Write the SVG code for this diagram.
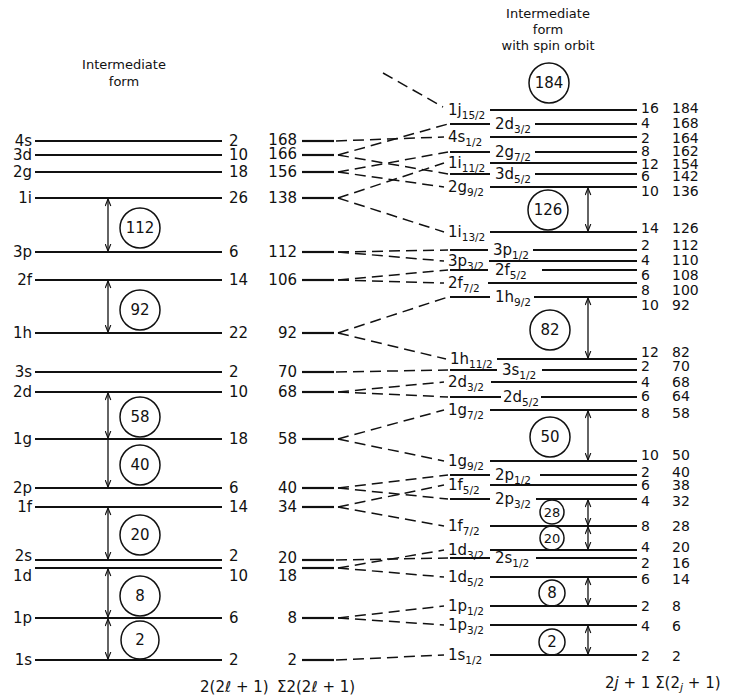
<svg xmlns="http://www.w3.org/2000/svg" width="738" height="698" viewBox="0 0 738 698">
<defs>
<style>
.lv{stroke:#111;stroke-width:2.2}
.dc{stroke:#111;stroke-width:1.5;stroke-dasharray:11 6;fill:none}
.ar{stroke:#111;stroke-width:1.3;fill:none}
.c{fill:none;stroke:#111;stroke-width:1.5}
text{font-family:"DejaVu Sans","Liberation Sans",sans-serif;font-size:15px;fill:#111}
.e{text-anchor:end}
.m{text-anchor:middle}
.ttl{font-size:13px}
.sub{font-size:10.5px}
.sm{font-size:13px}
.rn{font-size:14px}
</style>
<marker id="ah" viewBox="0 0 10 10" refX="10" refY="5" markerWidth="8" markerHeight="7" markerUnits="userSpaceOnUse" orient="auto-start-reverse">
<path d="M0,1 L10,5 L0,9" fill="none" stroke="#111" stroke-width="1.6"/>
</marker>
</defs>
<rect width="738" height="698" fill="#fff"/>

<g id="titles">
<text class="ttl m" x="124" y="69">Intermediate</text>
<text class="ttl m" x="124" y="86">form</text>
<text class="ttl m" x="548" y="18">Intermediate</text>
<text class="ttl m" x="548" y="34">form</text>
<text class="ttl m" x="548" y="50">with spin orbit</text>
</g>

<!-- left column: intermediate form -->
<g id="L-4s"><line class="lv" x1="35" y1="141" x2="222" y2="141"/><text class="e" x="32" y="146">4s</text><text x="229" y="146">2</text></g>
<g id="L-3d"><line class="lv" x1="35" y1="155" x2="222" y2="155"/><text class="e" x="32" y="160">3d</text><text x="229" y="160">10</text></g>
<g id="L-2g"><line class="lv" x1="35" y1="172" x2="222" y2="172"/><text class="e" x="32" y="177">2g</text><text x="229" y="177">18</text></g>
<g id="L-1i"><line class="lv" x1="35" y1="198" x2="222" y2="198"/><text class="e" x="32" y="203">1i</text><text x="229" y="203">26</text></g>
<g id="L-3p"><line class="lv" x1="35" y1="252" x2="222" y2="252"/><text class="e" x="32" y="257">3p</text><text x="229" y="257">6</text></g>
<g id="L-2f"><line class="lv" x1="35" y1="280" x2="222" y2="280"/><text class="e" x="32" y="285">2f</text><text x="229" y="285">14</text></g>
<g id="L-1h"><line class="lv" x1="35" y1="333" x2="222" y2="333"/><text class="e" x="32" y="338">1h</text><text x="229" y="338">22</text></g>
<g id="L-3s"><line class="lv" x1="35" y1="372" x2="222" y2="372"/><text class="e" x="32" y="377">3s</text><text x="229" y="377">2</text></g>
<g id="L-2d"><line class="lv" x1="35" y1="392" x2="222" y2="392"/><text class="e" x="32" y="397">2d</text><text x="229" y="397">10</text></g>
<g id="L-1g"><line class="lv" x1="35" y1="439" x2="222" y2="439"/><text class="e" x="32" y="444">1g</text><text x="229" y="444">18</text></g>
<g id="L-2p"><line class="lv" x1="35" y1="488" x2="222" y2="488"/><text class="e" x="32" y="493">2p</text><text x="229" y="493">6</text></g>
<g id="L-1f"><line class="lv" x1="35" y1="507" x2="222" y2="507"/><text class="e" x="32" y="512">1f</text><text x="229" y="512">14</text></g>
<g id="L-2s"><line class="lv" x1="35" y1="560" x2="222" y2="560"/><text class="e" x="32" y="561">2s</text><text x="229" y="561">2</text></g>
<g id="L-1d"><line class="lv" x1="35" y1="568" x2="222" y2="568"/><text class="e" x="32" y="581">1d</text><text x="229" y="581">10</text></g>
<g id="L-1p"><line class="lv" x1="35" y1="618" x2="222" y2="618"/><text class="e" x="32" y="623">1p</text><text x="229" y="623">6</text></g>
<g id="L-1s"><line class="lv" x1="35" y1="660" x2="222" y2="660"/><text class="e" x="32" y="665">1s</text><text x="229" y="665">2</text></g>

<!-- left gaps -->
<g id="L-gap-112"><line class="ar" x1="108" y1="199" x2="108" y2="251" marker-start="url(#ah)" marker-end="url(#ah)"/><circle class="c" cx="140" cy="228" r="20"/><text class="m" x="140" y="233">112</text></g>
<g id="L-gap-92"><line class="ar" x1="108" y1="281" x2="108" y2="332" marker-start="url(#ah)" marker-end="url(#ah)"/><circle class="c" cx="140" cy="310" r="20"/><text class="m" x="140" y="315">92</text></g>
<g id="L-gap-58"><line class="ar" x1="108" y1="393" x2="108" y2="438" marker-start="url(#ah)" marker-end="url(#ah)"/><circle class="c" cx="140" cy="417" r="20"/><text class="m" x="140" y="422">58</text></g>
<g id="L-gap-40"><line class="ar" x1="108" y1="440" x2="108" y2="487" marker-end="url(#ah)"/><circle class="c" cx="140" cy="465" r="20"/><text class="m" x="140" y="470">40</text></g>
<g id="L-gap-20"><line class="ar" x1="108" y1="508" x2="108" y2="559" marker-start="url(#ah)" marker-end="url(#ah)"/><circle class="c" cx="140" cy="535" r="20"/><text class="m" x="140" y="540">20</text></g>
<g id="L-gap-8"><line class="ar" x1="108" y1="569" x2="108" y2="617" marker-start="url(#ah)" marker-end="url(#ah)"/><circle class="c" cx="140" cy="596" r="20"/><text class="m" x="140" y="601">8</text></g>
<g id="L-gap-2"><line class="ar" x1="108" y1="619" x2="108" y2="659" marker-start="url(#ah)" marker-end="url(#ah)"/><circle class="c" cx="140" cy="640" r="19"/><text class="m" x="140" y="645">2</text></g>

<!-- middle column: cumulative -->
<g id="M-168"><line class="lv" x1="302" y1="141" x2="334" y2="141"/><text class="e" x="297" y="145">168</text></g>
<g id="M-166"><line class="lv" x1="302" y1="155" x2="334" y2="155"/><text class="e" x="297" y="159">166</text></g>
<g id="M-156"><line class="lv" x1="302" y1="172" x2="334" y2="172"/><text class="e" x="297" y="177">156</text></g>
<g id="M-138"><line class="lv" x1="302" y1="198" x2="334" y2="198"/><text class="e" x="297" y="203">138</text></g>
<g id="M-112"><line class="lv" x1="302" y1="252" x2="334" y2="252"/><text class="e" x="297" y="257">112</text></g>
<g id="M-106"><line class="lv" x1="302" y1="280" x2="334" y2="280"/><text class="e" x="297" y="285">106</text></g>
<g id="M-92"><line class="lv" x1="302" y1="333" x2="334" y2="333"/><text class="e" x="297" y="338">92</text></g>
<g id="M-70"><line class="lv" x1="302" y1="372" x2="334" y2="372"/><text class="e" x="297" y="377">70</text></g>
<g id="M-68"><line class="lv" x1="302" y1="392" x2="334" y2="392"/><text class="e" x="297" y="397">68</text></g>
<g id="M-58"><line class="lv" x1="302" y1="439" x2="334" y2="439"/><text class="e" x="297" y="444">58</text></g>
<g id="M-40"><line class="lv" x1="302" y1="488" x2="334" y2="488"/><text class="e" x="297" y="493">40</text></g>
<g id="M-34"><line class="lv" x1="302" y1="507" x2="334" y2="507"/><text class="e" x="297" y="512">34</text></g>
<g id="M-20"><line class="lv" x1="302" y1="560" x2="334" y2="560"/><text class="e" x="297" y="563">20</text></g>
<g id="M-18"><line class="lv" x1="302" y1="568" x2="334" y2="568"/><text class="e" x="297" y="581">18</text></g>
<g id="M-8"><line class="lv" x1="302" y1="618" x2="334" y2="618"/><text class="e" x="297" y="623">8</text></g>
<g id="M-2"><line class="lv" x1="302" y1="660" x2="334" y2="660"/><text class="e" x="297" y="665">2</text></g>

<!-- right column: with spin orbit -->
<g id="R-1j15-2"><line class="lv" x1="490" y1="110" x2="637" y2="110"/><text x="448" y="115">1j<tspan class="sub" dy="3.5">15/2</tspan></text><text class="rn" x="641" y="113">16</text><text class="rn" x="672" y="113">184</text></g>
<g id="R-2d3-2a"><line class="lv" x1="450" y1="124" x2="490" y2="124"/><line class="lv" x1="535" y1="124" x2="637" y2="124"/><text x="495" y="129">2d<tspan class="sub" dy="3.5">3/2</tspan></text><text class="rn" x="641" y="128">4</text><text class="rn" x="672" y="128">168</text></g>
<g id="R-4s1-2"><line class="lv" x1="490" y1="137" x2="637" y2="137"/><text x="448" y="142">4s<tspan class="sub" dy="3.5">1/2</tspan></text><text class="rn" x="641" y="142.5">2</text><text class="rn" x="672" y="142.5">164</text></g>
<g id="R-2g7-2"><line class="lv" x1="450" y1="152" x2="490" y2="152"/><line class="lv" x1="535" y1="152" x2="637" y2="152"/><text x="495" y="157">2g<tspan class="sub" dy="3.5">7/2</tspan></text><text class="rn" x="641" y="155.5">8</text><text class="rn" x="672" y="155.5">162</text></g>
<g id="R-1i11-2"><line class="lv" x1="490" y1="163" x2="637" y2="163"/><text x="448" y="168">1i<tspan class="sub" dy="3.5">11/2</tspan></text><text class="rn" x="641" y="168.5">12</text><text class="rn" x="672" y="168.5">154</text></g>
<g id="R-3d5-2"><line class="lv" x1="450" y1="174" x2="490" y2="174"/><line class="lv" x1="535" y1="174" x2="637" y2="174"/><text x="495" y="179">3d<tspan class="sub" dy="3.5">5/2</tspan></text><text class="rn" x="641" y="181">6</text><text class="rn" x="672" y="181">142</text></g>
<g id="R-2g9-2"><line class="lv" x1="490" y1="187" x2="637" y2="187"/><text x="448" y="192">2g<tspan class="sub" dy="3.5">9/2</tspan></text><text class="rn" x="641" y="195.5">10</text><text class="rn" x="672" y="195.5">136</text></g>
<g id="R-1i13-2"><line class="lv" x1="490" y1="232" x2="637" y2="232"/><text x="448" y="237">1i<tspan class="sub" dy="3.5">13/2</tspan></text><text class="rn" x="641" y="232.5">14</text><text class="rn" x="672" y="232.5">126</text></g>
<g id="R-3p1-2"><line class="lv" x1="450" y1="250" x2="488" y2="250"/><line class="lv" x1="533" y1="250" x2="637" y2="250"/><text x="493" y="255">3p<tspan class="sub" dy="3.5">1/2</tspan></text><text class="rn" x="641" y="249.5">2</text><text class="rn" x="672" y="249.5">112</text></g>
<g id="R-3p3-2"><line class="lv" x1="489" y1="261" x2="637" y2="261"/><text x="448" y="266">3p<tspan class="sub" dy="3.5">3/2</tspan></text><text class="rn" x="641" y="265">4</text><text class="rn" x="672" y="265">110</text></g>
<g id="R-2f5-2"><line class="lv" x1="450" y1="270" x2="488" y2="270"/><line class="lv" x1="542" y1="270" x2="637" y2="270"/><text x="495" y="275">2f<tspan class="sub" dy="3.5">5/2</tspan></text><text class="rn" x="641" y="279.5">6</text><text class="rn" x="672" y="279.5">108</text></g>
<g id="R-2f7-2"><line class="lv" x1="488" y1="283" x2="637" y2="283"/><text x="448" y="288">2f<tspan class="sub" dy="3.5">7/2</tspan></text><text class="rn" x="641" y="294.5">8</text><text class="rn" x="672" y="294.5">100</text></g>
<g id="R-1h9-2"><line class="lv" x1="450" y1="297" x2="490" y2="297"/><line class="lv" x1="534" y1="297" x2="637" y2="297"/><text x="495" y="302">1h<tspan class="sub" dy="3.5">9/2</tspan></text><text class="rn" x="641" y="309.5">10</text><text class="rn" x="672" y="309.5">92</text></g>
<g id="R-1h11-2"><line class="lv" x1="497" y1="359" x2="637" y2="359"/><text x="450" y="364">1h<tspan class="sub" dy="3.5">11/2</tspan></text><text class="rn" x="641" y="357">12</text><text class="rn" x="672" y="357">82</text></g>
<g id="R-3s1-2"><line class="lv" x1="450" y1="370" x2="497" y2="370"/><line class="lv" x1="542" y1="370" x2="637" y2="370"/><text x="502" y="375">3s<tspan class="sub" dy="3.5">1/2</tspan></text><text class="rn" x="641" y="371">2</text><text class="rn" x="672" y="371">70</text></g>
<g id="R-2d3-2"><line class="lv" x1="491" y1="382" x2="637" y2="382"/><text x="448" y="387">2d<tspan class="sub" dy="3.5">3/2</tspan></text><text class="rn" x="641" y="386.5">4</text><text class="rn" x="672" y="386.5">68</text></g>
<g id="R-2d5-2"><line class="lv" x1="450" y1="397" x2="501" y2="397"/><line class="lv" x1="541" y1="397" x2="637" y2="397"/><text x="503" y="402">2d<tspan class="sub" dy="3.5">5/2</tspan></text><text class="rn" x="641" y="400.5">6</text><text class="rn" x="672" y="400.5">64</text></g>
<g id="R-1g7-2"><line class="lv" x1="490" y1="410" x2="637" y2="410"/><text x="448" y="415">1g<tspan class="sub" dy="3.5">7/2</tspan></text><text class="rn" x="641" y="417.5">8</text><text class="rn" x="672" y="417.5">58</text></g>
<g id="R-1g9-2"><line class="lv" x1="490" y1="461" x2="637" y2="461"/><text x="448" y="466">1g<tspan class="sub" dy="3.5">9/2</tspan></text><text class="rn" x="641" y="460">10</text><text class="rn" x="672" y="460">50</text></g>
<g id="R-2p1-2"><line class="lv" x1="450" y1="475" x2="490" y2="475"/><line class="lv" x1="540" y1="475" x2="637" y2="475"/><text x="495" y="480">2p<tspan class="sub" dy="3.5">1/2</tspan></text><text class="rn" x="641" y="477">2</text><text class="rn" x="672" y="477">40</text></g>
<g id="R-1f5-2"><line class="lv" x1="490" y1="485" x2="637" y2="485"/><text x="448" y="490">1f<tspan class="sub" dy="3.5">5/2</tspan></text><text class="rn" x="641" y="490">6</text><text class="rn" x="672" y="490">38</text></g>
<g id="R-2p3-2"><line class="lv" x1="450" y1="499" x2="490" y2="499"/><line class="lv" x1="536" y1="499" x2="637" y2="499"/><text x="495" y="504">2p<tspan class="sub" dy="3.5">3/2</tspan></text><text class="rn" x="641" y="505.5">4</text><text class="rn" x="672" y="505.5">32</text></g>
<g id="R-1f7-2"><line class="lv" x1="490" y1="526" x2="637" y2="526"/><text x="448" y="531">1f<tspan class="sub" dy="3.5">7/2</tspan></text><text class="rn" x="641" y="530.5">8</text><text class="rn" x="672" y="530.5">28</text></g>
<g id="R-1d3-2"><line class="lv" x1="490" y1="550" x2="637" y2="550"/><text x="448" y="555">1d<tspan class="sub" dy="3.5">3/2</tspan></text><text class="rn" x="641" y="551.5">4</text><text class="rn" x="672" y="551.5">20</text></g>
<g id="R-2s1-2"><line class="lv" x1="450" y1="558" x2="490" y2="558"/><line class="lv" x1="536" y1="558" x2="637" y2="558"/><text x="495" y="563">2s<tspan class="sub" dy="3.5">1/2</tspan></text><text class="rn" x="641" y="568">2</text><text class="rn" x="672" y="568">16</text></g>
<g id="R-1d5-2"><line class="lv" x1="490" y1="577" x2="637" y2="577"/><text x="448" y="582">1d<tspan class="sub" dy="3.5">5/2</tspan></text><text class="rn" x="641" y="584">6</text><text class="rn" x="672" y="584">14</text></g>
<g id="R-1p1-2"><line class="lv" x1="490" y1="606" x2="637" y2="606"/><text x="448" y="611">1p<tspan class="sub" dy="3.5">1/2</tspan></text><text class="rn" x="641" y="610.5">2</text><text class="rn" x="672" y="610.5">8</text></g>
<g id="R-1p3-2"><line class="lv" x1="490" y1="625" x2="637" y2="625"/><text x="448" y="630">1p<tspan class="sub" dy="3.5">3/2</tspan></text><text class="rn" x="641" y="630.5">4</text><text class="rn" x="672" y="630.5">6</text></g>
<g id="R-1s1-2"><line class="lv" x1="490" y1="655" x2="637" y2="655"/><text x="448" y="660">1s<tspan class="sub" dy="3.5">1/2</tspan></text><text class="rn" x="641" y="660.5">2</text><text class="rn" x="672" y="660.5">2</text></g>

<!-- right gaps -->
<g id="R-gap-184"><circle class="c" cx="549" cy="83" r="20"/><text class="m" x="549" y="88">184</text></g>
<g id="R-gap-126"><line class="ar" x1="588" y1="188" x2="588" y2="231" marker-start="url(#ah)" marker-end="url(#ah)"/><circle class="c" cx="548" cy="210" r="20"/><text class="m" x="548" y="215">126</text></g>
<g id="R-gap-82"><line class="ar" x1="588" y1="298" x2="588" y2="358" marker-start="url(#ah)" marker-end="url(#ah)"/><circle class="c" cx="550" cy="330" r="20"/><text class="m" x="550" y="335">82</text></g>
<g id="R-gap-50"><line class="ar" x1="588" y1="411" x2="588" y2="460" marker-start="url(#ah)" marker-end="url(#ah)"/><circle class="c" cx="550" cy="437" r="20"/><text class="m" x="550" y="442">50</text></g>
<g id="R-gap-28"><line class="ar" x1="588" y1="500" x2="588" y2="525" marker-start="url(#ah)" marker-end="url(#ah)"/><circle class="c" cx="552" cy="512" r="12"/><text class="sm m" x="552" y="517">28</text></g>
<g id="R-gap-20"><line class="ar" x1="588" y1="527" x2="588" y2="549" marker-start="url(#ah)" marker-end="url(#ah)"/><circle class="c" cx="552" cy="538" r="12"/><text class="sm m" x="552" y="543">20</text></g>
<g id="R-gap-8"><line class="ar" x1="588" y1="578" x2="588" y2="605" marker-start="url(#ah)" marker-end="url(#ah)"/><circle class="c" cx="552" cy="593" r="13"/><text class="m" x="552" y="598">8</text></g>
<g id="R-gap-2"><line class="ar" x1="588" y1="626" x2="588" y2="654" marker-start="url(#ah)" marker-end="url(#ah)"/><circle class="c" cx="552" cy="642" r="13"/><text class="m" x="552" y="647">2</text></g>

<!-- connectors -->
<g id="connectors">
<line class="dc" x1="383" y1="73" x2="443" y2="107"/>
<line class="dc" x1="336" y1="141" x2="444" y2="137"/>
<line class="dc" x1="338" y1="155" x2="448" y2="124"/>
<line class="dc" x1="338" y1="155" x2="448" y2="174"/>
<line class="dc" x1="338" y1="172" x2="448" y2="152"/>
<line class="dc" x1="338" y1="172" x2="444" y2="187"/>
<line class="dc" x1="338" y1="198" x2="444" y2="163"/>
<line class="dc" x1="338" y1="198" x2="444" y2="232"/>
<line class="dc" x1="338" y1="252" x2="448" y2="250"/>
<line class="dc" x1="338" y1="252" x2="444" y2="261"/>
<line class="dc" x1="338" y1="280" x2="448" y2="270"/>
<line class="dc" x1="338" y1="280" x2="444" y2="283"/>
<line class="dc" x1="338" y1="333" x2="448" y2="297"/>
<line class="dc" x1="338" y1="333" x2="446" y2="359"/>
<line class="dc" x1="336" y1="372" x2="448" y2="370"/>
<line class="dc" x1="338" y1="392" x2="444" y2="382"/>
<line class="dc" x1="338" y1="392" x2="448" y2="397"/>
<line class="dc" x1="338" y1="439" x2="444" y2="410"/>
<line class="dc" x1="338" y1="439" x2="444" y2="461"/>
<line class="dc" x1="338" y1="488" x2="448" y2="475"/>
<line class="dc" x1="338" y1="488" x2="448" y2="499"/>
<line class="dc" x1="338" y1="507" x2="444" y2="485"/>
<line class="dc" x1="338" y1="507" x2="444" y2="526"/>
<line class="dc" x1="336" y1="560" x2="448" y2="558"/>
<line class="dc" x1="338" y1="568" x2="444" y2="550"/>
<line class="dc" x1="338" y1="568" x2="444" y2="577"/>
<line class="dc" x1="338" y1="618" x2="444" y2="606"/>
<line class="dc" x1="338" y1="618" x2="444" y2="625"/>
<line class="dc" x1="336" y1="660" x2="444" y2="655"/>
</g>

<g id="axis-labels">
<text x="200" y="692">2(2ℓ + 1)</text>
<text x="277" y="692">Σ2(2ℓ + 1)</text>
<text x="605" y="688">2<tspan font-style="italic">j</tspan> + 1 Σ(2<tspan font-size="11" dy="3" font-style="italic">j</tspan><tspan dy="-3"> + 1)</tspan></text>
</g>
</svg>
